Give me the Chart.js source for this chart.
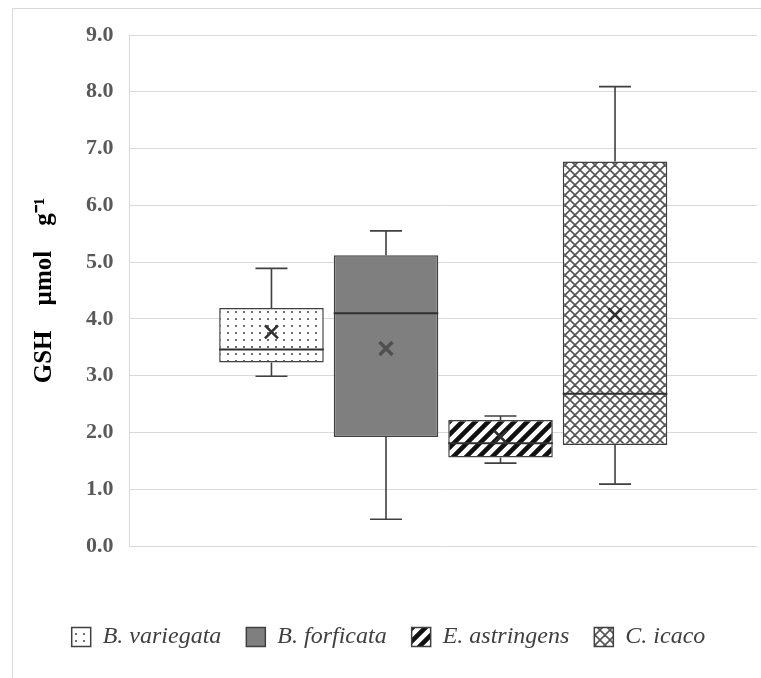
<!DOCTYPE html>
<html>
<head>
<meta charset="utf-8">
<script src="https://cdn.jsdelivr.net/npm/chart.js@4"></script>
<style>
html,body{margin:0;padding:0;background:#fff;}
canvas{display:block;}
</style>
</head>
<body>
<canvas id="c" width="761" height="678" style="width:761px;height:678px"></canvas>
<script>
// ---- data ----
const categories = ['B. variegata', 'B. forficata', 'E. astringens', 'C. icaco'];
const mins    = [2.99, 0.47, 1.46, 1.09];
const q1s     = [3.23, 1.92, 1.56, 1.78];
const medians = [3.46, 4.10, 1.81, 2.68];
const q3s     = [4.19, 5.12, 2.22, 6.77];
const maxs    = [4.89, 5.55, 2.29, 8.09];
const means   = [3.77, 3.48, 1.92, 4.07];
const yTickMin = 0, yTickMax = 9, yTickStep = 1;
const yTitle = 'GSH    \u00b5mol    g\u207b\u00b9';

// ---- fill patterns ----
function pat(type){
  const c = document.createElement('canvas');
  const x = c.getContext('2d');
  if(type==='dots'){
    c.width=8;c.height=7;
    x.fillStyle='#fff';x.fillRect(0,0,8,7);
    x.fillStyle='#707070';x.fillRect(3,3,2,2);
  } else if(type==='gray'){
    c.width=4;c.height=4;
    x.fillStyle='#808080';x.fillRect(0,0,4,4);
    x.fillStyle='#7a7a7a';x.fillRect(0,0,1,1);x.fillRect(2,2,1,1);
  } else if(type==='stripes'){
    const s=13;c.width=s;c.height=s;
    x.fillStyle='#fff';x.fillRect(0,0,s,s);
    x.strokeStyle='#111';x.lineWidth=4.6;x.lineCap='square';
    x.beginPath();
    x.moveTo(-s,s);x.lineTo(s,-s);
    x.moveTo(0,s);x.lineTo(s,0);
    x.moveTo(0,2*s);x.lineTo(2*s,0);
    x.stroke();
  } else {
    const s=10;c.width=s;c.height=s;
    x.fillStyle='#fff';x.fillRect(0,0,s,s);
    x.strokeStyle='#555';x.lineWidth=1.6;
    x.beginPath();
    x.moveTo(0,0);x.lineTo(s,s);
    x.moveTo(0,s);x.lineTo(s,0);
    x.moveTo(-s/2,s/2);x.lineTo(s/2,-s/2);
    x.moveTo(s/2,s*1.5);x.lineTo(s*1.5,s/2);
    x.moveTo(-s/2,s/2);x.lineTo(s/2,s*1.5);
    x.moveTo(s/2,-s/2);x.lineTo(s*1.5,s/2);
    x.stroke();
  }
  return document.getElementById('c').getContext('2d').createPattern(c,'repeat');
}
const fills = [pat('dots'), pat('gray'), pat('stripes'), pat('cross')];
const edge = '#404040';

const datasets = categories.map((name,i)=>({
  label: name,
  data: [[q1s[i], q3s[i]]],
  backgroundColor: fills[i],
  borderColor: edge,
  borderWidth: 1.5,
  borderSkipped: false,
  categoryPercentage: 0.73,
  barPercentage: 0.913
}));

const frame = {
  id:'frame',
  beforeDraw(chart){
    const ctx=chart.ctx;
    ctx.save();
    ctx.fillStyle='#fff';ctx.fillRect(0,0,chart.width,chart.height);
    ctx.strokeStyle='#d9d9d9';ctx.lineWidth=1;
    ctx.beginPath();
    ctx.moveTo(12,8.5);ctx.lineTo(chart.width,8.5);
    ctx.moveTo(12.5,8);ctx.lineTo(12.5,chart.height);
    ctx.stroke();
    ctx.restore();
  }
};

const boxExtras = {
  id:'boxExtras',
  afterDatasetsDraw(chart){
    const y=chart.scales.y, ctx=chart.ctx;
    chart.data.datasets.forEach((ds,i)=>{
      const bar=chart.getDatasetMeta(i).data[0];
      const cx=bar.x, hw=bar.width/2, cap=16;
      ctx.save();
      ctx.strokeStyle=edge;ctx.lineWidth=1.6;
      const yMax=y.getPixelForValue(maxs[i]), yQ3=y.getPixelForValue(q3s[i]);
      const yMin=y.getPixelForValue(mins[i]), yQ1=y.getPixelForValue(q1s[i]);
      ctx.beginPath();
      ctx.moveTo(cx,yQ3);ctx.lineTo(cx,yMax);
      ctx.moveTo(cx-cap,yMax);ctx.lineTo(cx+cap,yMax);
      ctx.moveTo(cx,yQ1);ctx.lineTo(cx,yMin);
      ctx.moveTo(cx-cap,yMin);ctx.lineTo(cx+cap,yMin);
      ctx.stroke();
      const yMed=y.getPixelForValue(medians[i]);
      ctx.lineWidth=2;ctx.strokeStyle='#303030';
      ctx.beginPath();ctx.moveTo(cx-hw,yMed);ctx.lineTo(cx+hw,yMed);ctx.stroke();
      const yMean=y.getPixelForValue(means[i]), m=6.5;
      ctx.lineWidth=i===1?3.5:2.6;ctx.strokeStyle=i===1?'#505050':'#303030';
      ctx.beginPath();
      ctx.moveTo(cx-m,yMean-m);ctx.lineTo(cx+m,yMean+m);
      ctx.moveTo(cx-m,yMean+m);ctx.lineTo(cx+m,yMean-m);
      ctx.stroke();
      ctx.restore();
    });
  }
};

new Chart(document.getElementById('c'),{
  type:'bar',
  data:{labels:[''], datasets},
  options:{
    responsive:false,
    animation:false,
    devicePixelRatio:1,
    layout:{padding:{left:20,top:35,right:4,bottom:19}},
    plugins:{
      tooltip:{enabled:false},
      legend:{
        position:'bottom',
        labels:{
          boxWidth:19, boxHeight:19, padding:25,
          color:'#404040',
          font:{family:'"Liberation Serif", serif', style:'italic', size:24}
        }
      }
    },
    scales:{
      x:{
        grid:{display:false},
        border:{display:false},
        ticks:{display:false},
        afterFit(scale){ scale.height = 54; }
      },
      y:{
        min:yTickMin, max:yTickMax,
        ticks:{
          stepSize:yTickStep,
          padding:16,
          color:'#595959',
          font:{family:'"Liberation Serif", serif', weight:'bold', size:22},
          callback:v=>Number(v).toFixed(1)
        },
        grid:{color:'#d9d9d9', lineWidth:1, drawTicks:false},
        border:{color:'#d9d9d9'},
        title:{
          display:true, text:yTitle, color:'#000',
          padding:{top:10,bottom:10},
          font:{family:'"Liberation Serif", serif', weight:'bold', size:25}
        }
      }
    }
  },
  plugins:[frame, boxExtras]
});
</script>
</body>
</html>
